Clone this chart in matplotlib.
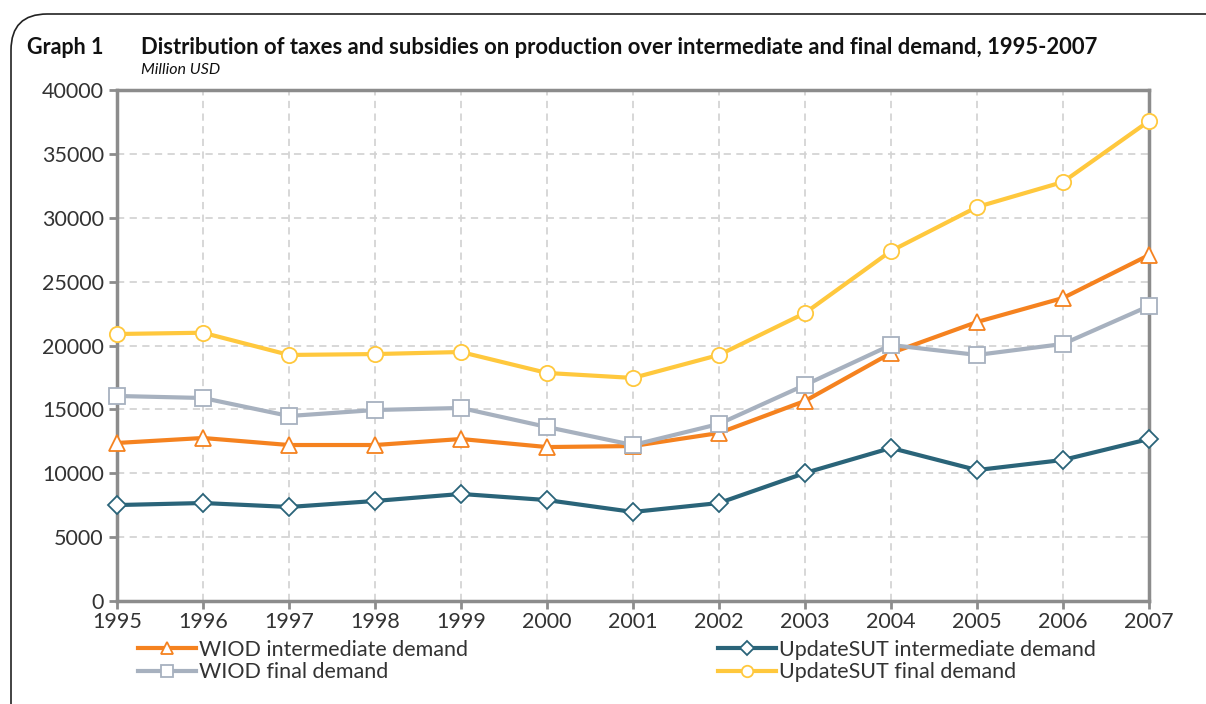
import matplotlib.pyplot as plt
from matplotlib.patches import FancyBboxPatch

years = list(range(1995, 2008))
wiod_inter = [12370, 12760, 12210, 12210, 12680, 12050, 12130, 13150, 15660, 19410, 21840, 23720, 27080]
wiod_final = [16050, 15890, 14480, 14950, 15110, 13620, 12210, 13860, 16910, 20040, 19260, 20120, 23090]
sut_inter = [7510, 7670, 7360, 7830, 8380, 7900, 6970, 7670, 10020, 11980, 10250, 11040, 12680]
sut_final = [20900, 21000, 19260, 19330, 19490, 17850, 17460, 19260, 22540, 27400, 30840, 32800, 37570]

plt.rcParams['font.family'] = ['Lato', 'DejaVu Sans']
txt = '#333333'

fig = plt.figure(figsize=(12.06, 7.04), dpi=100)
ax = fig.add_axes([117 / 1206, 1 - 601 / 704, (1149 - 117) / 1206, (601 - 90) / 704])

# rounded frame round the whole graph
frame = FancyBboxPatch((11 / 1206, -0.1), 1.2, (704 - 14) / 704 + 0.1,
                       boxstyle="round,pad=0,rounding_size=0.03",
                       transform=fig.transFigure, fill=False, ec='#222222', lw=1.2,
                       mutation_aspect=1206 / 704)
fig.patches.append(frame)

style = dict(lw=3, mfc='white', mew=1.3, clip_on=False)
ax.plot(years, wiod_inter, color='#F5821F', marker='^', ms=12, mec='#F5821F',
        label='WIOD intermediate demand', zorder=3, **style)
ax.plot(years, wiod_final, color='#A7B1BF', marker='s', ms=11, mec='#A7B1BF',
        label='WIOD final demand', zorder=3, **style)
ax.plot(years, sut_inter, color='#2A6479', marker='D', ms=9, mec='#2A6479',
        label='UpdateSUT intermediate demand', zorder=3, **style)
ax.plot(years, sut_final, color='#FFC83D', marker='o', ms=11, mec='#FFC83D',
        label='UpdateSUT final demand', zorder=4, **style)

ax.set_xlim(1995, 2007)
ax.set_ylim(0, 40000)
ax.set_xticks(years)
ax.set_yticks(range(0, 40001, 5000))
ax.grid(True, color='#d4d4d4', ls=(0, (4, 3)), lw=1.3)
ax.set_axisbelow(True)
for s in ax.spines.values():
    s.set_color('#8c8c8c')
    s.set_linewidth(2.5)
ax.tick_params(colors='#8c8c8c', width=2, length=6, labelcolor=txt, labelsize=15.5)
ax.tick_params(axis='x', pad=2)

fig.text(27 / 1206, 1 - 48 / 704, 'Graph 1', fontsize=15.5, fontweight='bold', color='#111111', va='center')
fig.text(141 / 1206, 1 - 48 / 704,
         'Distribution of taxes and subsidies on production over intermediate and final demand, 1995-2007',
         fontsize=15.8, fontweight='bold', color='#111111', va='center')
fig.text(141 / 1206, 1 - 70 / 704, 'Million USD', fontsize=11.5, fontstyle='italic', color='#111111', va='center')

fig.legend(loc='upper left', bbox_to_anchor=(138 / 1206, 1 - 640 / 704), ncol=2, frameon=False,
           fontsize=15.5, labelcolor=txt, handlelength=2.7, handletextpad=0.15, markerscale=0.75,
           columnspacing=11.6, labelspacing=0.1, borderaxespad=0, borderpad=0)

fig.savefig('out.png', dpi=100)
